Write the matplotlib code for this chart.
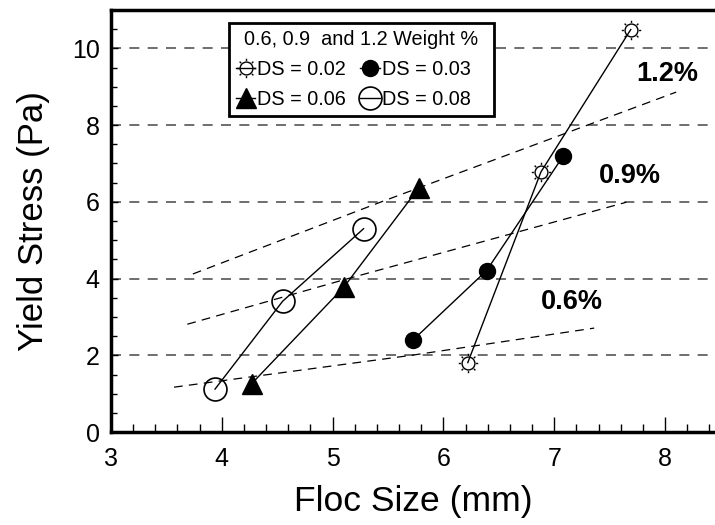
import numpy as np
import matplotlib
matplotlib.use("Agg")
import matplotlib.pyplot as plt
from matplotlib.path import Path

plt.rcParams['font.family'] = ['Liberation Sans', 'DejaVu Sans']

# ---- data ----
ds002_x = [6.22, 6.88, 7.69]
ds002_y = [1.81, 6.78, 10.49]
ds003_x = [5.73, 6.39, 7.08]
ds003_y = [2.41, 4.21, 7.19]
ds006_x = [4.27, 5.10, 5.78]
ds006_y = [1.26, 3.77, 6.37]
ds008_x = [3.94, 4.55, 5.28]
ds008_y = [1.12, 3.41, 5.30]

trend06_x = [3.57, 5.71, 7.36]
trend06_y = [1.17, 2.00, 2.71]
trend09_x = [3.69, 5.14, 7.65]
trend09_y = [2.81, 4.00, 5.99]
trend12_x = [3.74, 5.44, 8.10]
trend12_y = [4.12, 6.00, 8.86]

legend_labels = ["DS = 0.02", "DS = 0.03", "DS = 0.06", "DS = 0.08"]
legend_title = "0.6, 0.9  and 1.2 Weight %"
pct_labels = ["1.2%", "0.9%", "0.6%"]
pct_pos = [(8.02, 9.33), (7.68, 6.68), (7.16, 3.38)]

# ---- sun marker: open circle with 8 short rays ----
circ = Path.circle((0, 0), 0.66)
verts, codes = [], []
for a in np.arange(8) * np.pi / 4:
    verts += [(0.78 * np.cos(a), 0.78 * np.sin(a)), (np.cos(a), np.sin(a))]
    codes += [Path.MOVETO, Path.LINETO]
rays = Path(verts, codes)
sun = Path.make_compound_path(circ, rays)

fig = plt.figure(figsize=(7.15, 5.25), dpi=100)
ax = fig.add_axes([0.155, 0.177, 0.845, 0.804])

# grid
for yv in [2, 4, 6, 8, 10]:
    ax.axhline(yv, color='#555555', lw=1.2, ls=(0, (6, 5)), zorder=1)

# trend lines
for tx, ty in [(trend06_x, trend06_y), (trend09_x, trend09_y), (trend12_x, trend12_y)]:
    ax.plot(tx, ty, color='black', lw=0.9, ls=(0, (7, 5)), zorder=2)

h1, = ax.plot(ds002_x, ds002_y, color='black', lw=1, marker=sun, ms=14,
              mfc='none', mec='black', mew=1, zorder=3)
h2, = ax.plot(ds003_x, ds003_y, color='black', lw=1, marker='o', ms=11.5,
              mfc='black', mec='black', zorder=3)
h3, = ax.plot(ds006_x, ds006_y, color='black', lw=1, marker='^', ms=15,
              mfc='black', mec='black', zorder=3)
h4, = ax.plot(ds008_x, ds008_y, color='black', lw=1, marker='o', ms=16.5,
              mfc='none', mec='black', mew=1.2, zorder=3)

for lab, (px, py) in zip(pct_labels, pct_pos):
    ax.text(px, py, lab, fontsize=19.5, fontweight='bold', ha='center', va='center')

pad = "   "
leg = ax.legend([h1, h3, h2, h4],
                [legend_labels[0], legend_labels[2],
                 legend_labels[1] + pad, legend_labels[3] + pad],
                ncol=2, title=legend_title, loc='upper left',
                bbox_to_anchor=(0.195, 0.969), borderaxespad=0,
                fontsize=14.3, title_fontsize=14.3,
                handlelength=1.0, handletextpad=0.1, columnspacing=0.7,
                borderpad=0.35, labelspacing=0.55, fancybox=False,
                edgecolor='black', framealpha=1)
leg.get_frame().set_linewidth(2)

ax.set_xlim(3, 8.45)
ax.set_ylim(0, 11)
ax.set_xticks([3, 4, 5, 6, 7, 8])
ax.set_xticks(np.arange(3, 8.45, 0.2), minor=True)
ax.set_yticks([0, 2, 4, 6, 8, 10])
ax.set_yticks(np.arange(0, 11.01, 0.5), minor=True)
ax.tick_params(which='major', direction='in', length=11, width=1, labelsize=18)
ax.tick_params(which='minor', direction='in', length=6, width=1)
ax.tick_params(axis='y', which='major', length=5, pad=8)
ax.tick_params(axis='y', which='minor', length=4)
ax.tick_params(axis='x', which='major', pad=11)

for s in ['left', 'bottom', 'top']:
    ax.spines[s].set_linewidth(2.5)
ax.spines['right'].set_visible(False)

ax.set_xlabel("Floc Size (mm)", fontsize=25.5, labelpad=10)
ax.set_ylabel("Yield Stress (Pa)", fontsize=25, labelpad=16)

fig.savefig("out.png", dpi=100)
